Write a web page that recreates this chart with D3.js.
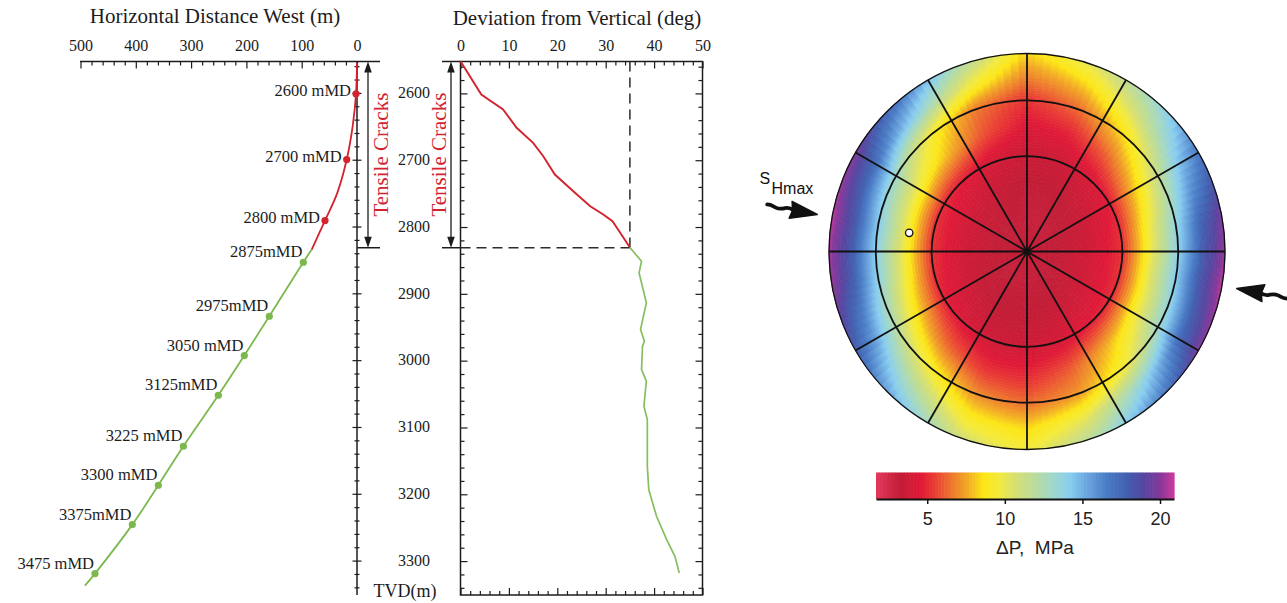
<!DOCTYPE html>
<html>
<head>
<meta charset="utf-8">
<script src="https://cdn.jsdelivr.net/npm/d3@7"></script>
<style>
  body { margin: 0; background: #fff; }
  svg { display: block; }
</style>
</head>
<body>
<svg id="chart" width="1287" height="603"></svg>
<script>
// ---------------- data ----------------
// Well trajectory: horizontal distance west (m) vs true vertical depth (m)
const pathWestRed   = [0, 1.8, 7.8, 18.6, 35.6, 57.9, 81.9];
const pathTvdRed    = [2554, 2600.6, 2649, 2699, 2748.8, 2790.3, 2833.7];
const pathWestGreen = [81.9, 97.1, 158.6, 203.8, 250.8, 314, 359.3, 406.3, 473.8, 491.9];
const pathTvdGreen  = [2833.7, 2852.7, 2933.5, 2992.4, 3051.8, 3128.1, 3186.5, 3245.4, 3318.7, 3336.7];

// Measured-depth stations along the trajectory
const mdLabels = ["2600 mMD", "2700 mMD", "2800 mMD", "2875mMD", "2975mMD", "3050 mMD",
                  "3125mMD", "3225 mMD", "3300 mMD", "3375mMD", "3475 mMD"];
const mdWest = [1.8, 18.6, 57.9, 97.1, 158.6, 203.8, 250.8, 314, 359.3, 406.3, 473.8];
const mdTvd  = [2600.6, 2699, 2790.3, 2852.7, 2933.5, 2992.4, 3051.8, 3128.1, 3186.5, 3245.4, 3318.7];

// Deviation from vertical (deg) vs TVD (m)
const devTvdRed   = [2552, 2601.6, 2624, 2651.5, 2674, 2694, 2721.4, 2746.4, 2768.9, 2781.3, 2791.3, 2808.7, 2830.7];
const devDegRed   = [0, 4.3, 8.8, 11.6, 15, 17.1, 19.5, 23.3, 26.8, 29.5, 31.4, 33, 35];
const devTvdGreen = [2830.7, 2851.2, 2868.6, 2913.5, 2953.4, 2971, 2978.4, 3013.3, 3030.8, 3068.3,
                     3088.2, 3158, 3193, 3233, 3267.8, 3292.8, 3317.7];
const devDegGreen = [35, 37.4, 36.9, 38.4, 37.2, 38, 37.6, 37.4, 38.4, 37.9,
                     38.6, 38.6, 38.9, 40.5, 42.6, 44.3, 45.2];

// Base of the tensile-crack interval
const crackTvd = 2831;
const crackDev = 35;

// Tick labels
const westTickLabels = [500, 400, 300, 200, 100, 0];
const devTickLabels  = [0, 10, 20, 30, 40, 50];
const tvdTickLabels  = [2600, 2700, 2800, 2900, 3000, 3100, 3200, 3300];
const cbTickLabels   = [5, 10, 15, 20];

// Polar plot: ΔP (MPa) required for tensile failure vs well deviation / azimuth
const fieldAz  = [0, 20, 40, 60, 80, 100, 120, 140, 160, 180, 200, 220, 240, 260, 280, 300, 320, 340];
const fieldDev = [0, 15, 30, 45, 60, 75, 90];
const dPvertical = 3.1;
const dP15 = [3.2, 3.2, 3.4, 3.6, 3.8, 3.9, 3.8, 3.6, 3.4, 3.3, 3.3, 3.4, 3.6, 3.8, 3.9, 3.8, 3.6, 3.4];
const dP30 = [3.6, 3.7, 4.1, 4.7, 5.1, 5.2, 5.0, 4.6, 4.1, 3.8, 3.8, 4.2, 4.8, 5.1, 5.2, 5.0, 4.6, 4.0];
const dP45 = [4.4, 4.8, 6.2, 8.2, 9.8, 10.2, 9.6, 7.8, 6.0, 5.0, 5.2, 6.4, 8.3, 9.8, 10.2, 9.7, 7.9, 5.8];
const dP60 = [5.2, 6.3, 8.5, 11.5, 13.6, 14.2, 13, 9.5, 7.2, 6.3, 7.0, 9.3, 12, 13.8, 14.2, 13, 9.5, 6.6];
const dP75 = [6.8, 8.2, 11, 14.5, 17.5, 18.3, 17.3, 13.5, 10, 8.3, 9.0, 12, 15.5, 17.8, 18.3, 17.3, 14, 9.8];
const dP90 = [8.3, 10.2, 13, 16.8, 19.8, 20.6, 19.8, 16, 12, 9.5, 10.8, 14.5, 18, 20.2, 20.6, 19.8, 16.8, 12.3];
const ringDev  = [30, 60];
const spokeAz  = [0, 30, 60, 90, 120, 150, 180, 210, 240, 270, 300, 330];
const wellDev = 42, wellAz = 279;
const shmaxAz = 100;

// Colour bar
const cbStops  = [1.7, 3.3, 4.6, 5.6, 6.6, 7.6, 8.6, 9.6, 10.6, 11.8, 13.0, 14.2, 15.4, 16.6, 17.8, 19.0, 20.0, 20.9];
const cbColors = ["#e2385c", "#c21c36", "#e01a38", "#ea4434", "#ee7a2e", "#f2aa26", "#fce616", "#f4ea3c",
                  "#d8e070", "#bcdc98", "#a2d8c8", "#88cdf0", "#68a2dc", "#4a7cc6", "#4260b0", "#5646a0",
                  "#86389a", "#d0389c"];

// ---------------- drawing ----------------
const svg = d3.select("#chart");
const serif = '"Liberation Serif","Times New Roman",Times,serif';
const sans = '"Liberation Sans",Arial,Helvetica,sans-serif';
const ink = "#1c1c1c";
const redC = "#d2232f";
const greenC = "#7db84f";

const frameTop = 61.5, frameBottom = 595;
const xWest = d3.scaleLinear().domain([0, 500]).range([357, 80.5]);
const yTvd = d3.scaleLinear().domain([2550, 3350]).range([60, 594.5]);
const xDev = d3.scaleLinear().domain([0, 50]).range([460.5, 702.5]);
const yCrack = yTvd(crackTvd);
const tvdMinor = d3.range(2560, 3341, 20);

function styleAxis(g, size, family) {
  g.select(".domain").remove();
  g.selectAll(".tick line").attr("stroke", ink).attr("stroke-width", 1.2);
  g.selectAll(".tick text").attr("font-family", family).attr("font-size", size).attr("fill", ink);
}

function vArrow(g, x, y0, y1) {
  g.append("line").attr("x1", x).attr("x2", x).attr("y1", y0 + 4).attr("y2", y1 - 4)
    .attr("stroke", ink).attr("stroke-width", 1.3);
  g.append("path").attr("d", `M${x},${y0} L${x - 3.8},${y0 + 11} L${x + 3.8},${y0 + 11} Z`).attr("fill", ink);
  g.append("path").attr("d", `M${x},${y1} L${x - 3.8},${y1 - 11} L${x + 3.8},${y1 - 11} Z`).attr("fill", ink);
}

// ---- Panel 1: trajectory ----
const p1 = svg.append("g");
p1.append("text").attr("x", 215).attr("y", 23).attr("text-anchor", "middle")
  .attr("font-family", serif).attr("font-size", 21).attr("fill", ink)
  .text("Horizontal Distance West (m)");

p1.append("line").attr("x1", 80).attr("x2", 380).attr("y1", frameTop).attr("y2", frameTop)
  .attr("stroke", ink).attr("stroke-width", 1.5);
const westAx = p1.append("g").attr("transform", `translate(0,${frameTop})`)
  .call(d3.axisTop(xWest).tickValues(d3.range(0, 501, 20)).tickSize(-4).tickSizeOuter(0).tickPadding(11)
    .tickFormat(d => westTickLabels.includes(d) ? d : ""));
styleAxis(westAx, 16, serif);
westAx.selectAll(".tick line").attr("y2", d => d % 100 === 0 ? 7 : 4);

// vertical TVD axis at zero offset, ticks on both sides
p1.append("line").attr("x1", xWest(0)).attr("x2", xWest(0)).attr("y1", frameTop).attr("y2", frameBottom)
  .attr("stroke", ink).attr("stroke-width", 1.5);
p1.append("g").selectAll("line").data(tvdMinor).join("line")
  .attr("x1", d => xWest(0) - (d % 100 === 0 ? 4.5 : 2.5))
  .attr("x2", d => xWest(0) + (d % 100 === 0 ? 4.5 : 2.5))
  .attr("y1", d => yTvd(d)).attr("y2", d => yTvd(d))
  .attr("stroke", ink).attr("stroke-width", 1.2);
p1.append("line").attr("x1", xWest(0)).attr("x2", 380).attr("y1", yCrack).attr("y2", yCrack)
  .attr("stroke", ink).attr("stroke-width", 1.5);
vArrow(p1, 368, frameTop, yCrack);
p1.append("text").attr("transform", `translate(388,${(frameTop + yCrack) / 2}) rotate(-90)`)
  .attr("text-anchor", "middle").attr("font-family", serif).attr("font-size", 21).attr("fill", redC)
  .text("Tensile Cracks");

const trackLine = d3.line().x(d => xWest(d[0])).y(d => yTvd(d[1])).curve(d3.curveCatmullRom.alpha(0.5));
p1.append("path").attr("d", trackLine(d3.zip(pathWestRed, pathTvdRed)))
  .attr("fill", "none").attr("stroke", redC).attr("stroke-width", 1.8);
p1.append("path").attr("d", trackLine(d3.zip(pathWestGreen, pathTvdGreen)))
  .attr("fill", "none").attr("stroke", greenC).attr("stroke-width", 1.8);

const stations = mdLabels.map((label, i) => ({ label, west: mdWest[i], tvd: mdTvd[i], cracked: mdTvd[i] < crackTvd }));
p1.append("g").selectAll("circle").data(stations).join("circle")
  .attr("cx", d => xWest(d.west)).attr("cy", d => yTvd(d.tvd)).attr("r", 3.6)
  .attr("fill", d => d.cracked ? redC : greenC);
p1.append("g").selectAll("text").data(stations).join("text")
  .attr("x", d => xWest(d.west) + (d.cracked ? -5 : -1))
  .attr("y", d => yTvd(d.tvd) + (d.cracked ? 2 : -5))
  .attr("text-anchor", "end").attr("font-family", serif).attr("font-size", 16.5).attr("fill", ink)
  .text(d => d.label);

// ---- Panel 2: deviation ----
const p2 = svg.append("g");
p2.append("text").attr("x", 577).attr("y", 25).attr("text-anchor", "middle")
  .attr("font-family", serif).attr("font-size", 21).attr("fill", ink)
  .text("Deviation from Vertical (deg)");

const devTicks = d3.range(0, 51, 2);
const topAx = p2.append("g").attr("transform", `translate(0,${frameTop})`)
  .call(d3.axisTop(xDev).tickValues(devTicks).tickSize(-4).tickSizeOuter(0).tickPadding(11)
    .tickFormat(d => devTickLabels.includes(d) ? d : ""));
styleAxis(topAx, 16, serif);
topAx.selectAll(".tick line").attr("y2", d => d % 10 === 0 ? 7 : 4);
const botAx = p2.append("g").attr("transform", `translate(0,${frameBottom})`)
  .call(d3.axisBottom(xDev).tickValues(devTicks).tickSize(-4).tickSizeOuter(0).tickFormat(""));
styleAxis(botAx, 12, serif);
botAx.selectAll(".tick line").attr("y2", d => d % 10 === 0 ? -7 : -4);
const leftAx = p2.append("g").attr("transform", `translate(${xDev(0)},0)`)
  .call(d3.axisLeft(yTvd).tickValues(tvdMinor).tickSize(-4).tickSizeOuter(0).tickPadding(30.5)
    .tickFormat(d => tvdTickLabels.includes(d) ? d : ""));
styleAxis(leftAx, 16, serif);
leftAx.selectAll(".tick line").attr("x2", d => d % 100 === 0 ? 7 : 4);
leftAx.selectAll(".tick text").attr("dy", "0.27em");
const rightAx = p2.append("g").attr("transform", `translate(${xDev(50)},0)`)
  .call(d3.axisRight(yTvd).tickValues(tvdMinor).tickSize(-4).tickSizeOuter(0).tickFormat(""));
styleAxis(rightAx, 12, serif);
rightAx.selectAll(".tick line").attr("x2", d => d % 100 === 0 ? -7 : -4);

p2.append("rect").attr("x", xDev(0)).attr("y", frameTop)
  .attr("width", xDev(50) - xDev(0)).attr("height", frameBottom - frameTop)
  .attr("fill", "none").attr("stroke", ink).attr("stroke-width", 1.5);

p2.append("text").attr("x", 405).attr("y", 597).attr("text-anchor", "middle")
  .attr("font-family", serif).attr("font-size", 18).attr("fill", ink).text("TVD(m)");

p2.append("line").attr("x1", 442).attr("x2", xDev(0)).attr("y1", frameTop).attr("y2", frameTop)
  .attr("stroke", ink).attr("stroke-width", 1.5);
p2.append("line").attr("x1", 442).attr("x2", xDev(0)).attr("y1", yCrack).attr("y2", yCrack)
  .attr("stroke", ink).attr("stroke-width", 1.5);
p2.append("line").attr("x1", xDev(0)).attr("x2", xDev(crackDev)).attr("y1", yCrack).attr("y2", yCrack)
  .attr("stroke", "#2a2a2a").attr("stroke-width", 1.5).attr("stroke-dasharray", "10,6");
p2.append("line").attr("x1", xDev(crackDev)).attr("x2", xDev(crackDev)).attr("y1", frameTop).attr("y2", yCrack)
  .attr("stroke", "#2a2a2a").attr("stroke-width", 1.5).attr("stroke-dasharray", "10,6");
vArrow(p2, 451, frameTop, yCrack);
p2.append("text").attr("transform", `translate(446,${(frameTop + yCrack) / 2}) rotate(-90)`)
  .attr("text-anchor", "middle").attr("font-family", serif).attr("font-size", 21).attr("fill", redC)
  .text("Tensile Cracks");

const devLine = d3.line().x(d => xDev(d[0])).y(d => yTvd(d[1]));
p2.append("path").attr("d", devLine(d3.zip(devDegRed, devTvdRed)))
  .attr("fill", "none").attr("stroke", redC).attr("stroke-width", 1.9);
p2.append("path").attr("d", devLine(d3.zip(devDegGreen, devTvdGreen)))
  .attr("fill", "none").attr("stroke", "#86bf5e").attr("stroke-width", 1.7);

// ---- Panel 3: polar ΔP plot ----
const cx = 1027, cy = 251.5, R = 198;
const rDev = d3.scalePow().exponent(0.665).domain([0, 90]).range([0, R]);
const color = d3.scaleLinear().domain(cbStops).range(cbColors).interpolate(d3.interpolateRgb).clamp(true);
const fieldRows = [null, dP15, dP30, dP45, dP60, dP75, dP90];

function rowValue(j, i) { return j === 0 ? dPvertical : fieldRows[j][i]; }
function fieldAt(dev, az) {
  const j = Math.max(0, Math.min(fieldDev.length - 2, d3.bisectRight(fieldDev, dev) - 1));
  const t = (dev - fieldDev[j]) / (fieldDev[j + 1] - fieldDev[j]);
  const step = fieldAz[1] - fieldAz[0];
  const a = ((az % 360) + 360) % 360 / step;
  const i0 = Math.floor(a) % fieldAz.length, i1 = (i0 + 1) % fieldAz.length, u = a - Math.floor(a);
  const v0 = rowValue(j, i0) * (1 - u) + rowValue(j, i1) * u;
  const v1 = rowValue(j + 1, i0) * (1 - u) + rowValue(j + 1, i1) * u;
  return v0 * (1 - t) + v1 * t;
}

const cells = [];
const devStep = 1.5, azStep = 2.5;
for (let d = 0; d < 90; d += devStep) {
  for (let a = 0; a < 360; a += azStep) {
    cells.push({ d0: d, d1: d + devStep, a0: a, a1: a + azStep, v: fieldAt(d + devStep / 2, a + azStep / 2) });
  }
}
const toRad = Math.PI / 180;
const cellArc = d3.arc();
const polar = svg.append("g").attr("transform", `translate(${cx},${cy})`);
polar.append("g").selectAll("path").data(cells).join("path")
  .attr("d", c => cellArc({ innerRadius: rDev(c.d0), outerRadius: rDev(c.d1),
                            startAngle: c.a0 * toRad, endAngle: c.a1 * toRad }))
  .attr("fill", c => color(c.v)).attr("stroke", c => color(c.v)).attr("stroke-width", 0.7);

polar.append("g").selectAll("line").data(spokeAz).join("line")
  .attr("x1", 0).attr("y1", 0)
  .attr("x2", a => R * Math.sin(a * toRad)).attr("y2", a => -R * Math.cos(a * toRad))
  .attr("stroke", "#111").attr("stroke-width", 1.8);
polar.append("g").selectAll("circle").data(ringDev).join("circle")
  .attr("r", d => rDev(d)).attr("fill", "none").attr("stroke", "#111").attr("stroke-width", 1.8);
polar.append("circle").attr("r", R).attr("fill", "none").attr("stroke", "#111").attr("stroke-width", 1.3);
polar.append("circle").attr("r", 2.5).attr("fill", "#111");
polar.append("circle")
  .attr("cx", rDev(wellDev) * Math.sin(wellAz * toRad))
  .attr("cy", -rDev(wellDev) * Math.cos(wellAz * toRad))
  .attr("r", 3.7).attr("fill", "#fff").attr("stroke", "#111").attr("stroke-width", 1.3);

// SHmax arrows, pointing inward along the maximum horizontal stress azimuth
const dirX = Math.sin(shmaxAz * toRad), dirY = -Math.cos(shmaxAz * toRad);
const rot = Math.atan2(dirY, dirX) / toRad;
const tipDist = R + 15;
[
  { x: cx - tipDist * dirX, y: cy - tipDist * dirY, angle: rot },
  { x: cx + tipDist * dirX, y: cy + tipDist * dirY, angle: rot + 180 }
].forEach(p => {
  const g = svg.append("g").attr("transform", `translate(${p.x},${p.y}) rotate(${p.angle})`);
  g.append("path").attr("d", "M0,0 L-27,-8.5 L-25,0 L-27,8.5 Z").attr("fill", "#111")
    .attr("stroke", "#111").attr("stroke-width", 1.5).attr("stroke-linejoin", "round");
  g.append("path").attr("d", "M-24,0 C-27,-1.6 -30,-1.8 -33,-0.6 S-38,1.6 -42,0.4 S-47,-1.8 -51,-1.2")
    .attr("fill", "none").attr("stroke", "#111").attr("stroke-width", 3.8).attr("stroke-linecap", "round");
});
svg.append("text").attr("x", 759.5).attr("y", 183.5).attr("font-family", sans).attr("font-size", 16)
  .attr("fill", "#111").text("S");
svg.append("text").attr("x", 771.5).attr("y", 193.5).attr("font-family", sans).attr("font-size", 16)
  .attr("fill", "#111").text("Hmax");

// ---- Colour bar ----
const cbX = d3.scaleLinear().domain([cbStops[0], cbStops[cbStops.length - 1]]).range([876, 1174]);
const cbBinWidth = 0.2;
const cbBins = d3.range(cbStops[0], cbStops[cbStops.length - 1] - 1e-9, cbBinWidth);
svg.append("g").selectAll("rect").data(cbBins).join("rect")
  .attr("x", v => cbX(v)).attr("y", 472.5)
  .attr("width", v => cbX(Math.min(v + cbBinWidth, cbStops[cbStops.length - 1])) - cbX(v) + 0.6)
  .attr("height", 26.5)
  .attr("fill", v => color(v + cbBinWidth / 2));
const cbAx = svg.append("g").attr("transform", "translate(0,499)")
  .call(d3.axisBottom(cbX).tickValues(cbTickLabels).tickSize(5).tickSizeOuter(0).tickPadding(8));
cbAx.select(".domain").attr("stroke", "#111").attr("stroke-width", 2);
cbAx.selectAll(".tick line").attr("stroke", "#111").attr("stroke-width", 1.5);
cbAx.selectAll(".tick text").attr("font-family", sans).attr("font-size", 18).attr("fill", "#222");
svg.append("text").attr("x", 1035).attr("y", 554).attr("text-anchor", "middle")
  .attr("font-family", sans).attr("font-size", 19).attr("fill", "#222")
  .style("white-space", "pre").text("\u0394P,  MPa");
</script>
</body>
</html>
